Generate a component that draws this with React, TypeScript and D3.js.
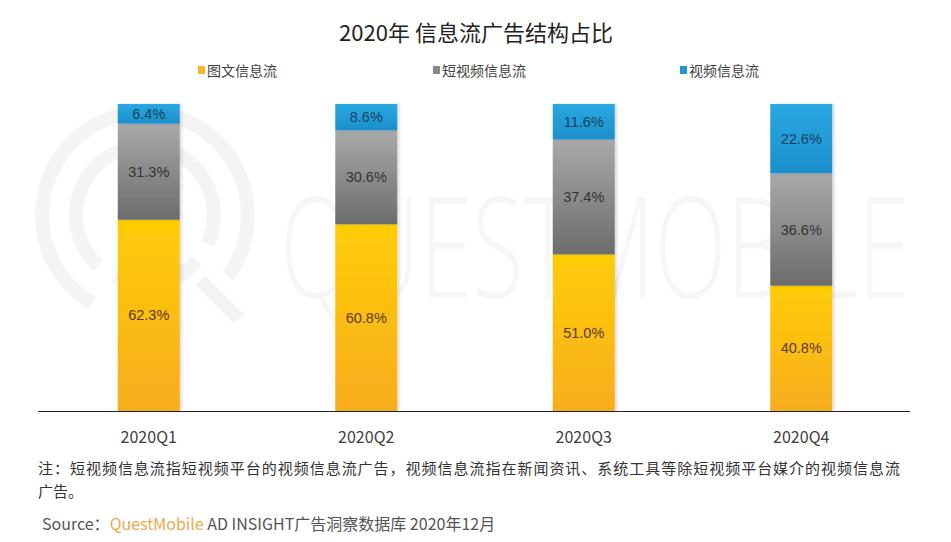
import React from 'react';
import * as d3 from 'd3';

const quarters = ['2020Q1', '2020Q2', '2020Q3', '2020Q4'];
const seriesNames = ['图文信息流', '短视频信息流', '视频信息流'];
const imageText = [62.3, 60.8, 51.0, 40.8];
const shortVideo = [31.3, 30.6, 37.4, 36.6];
const video = [6.4, 8.6, 11.6, 22.6];

const WIDTH = 951;
const HEIGHT = 542;
const CJK = '"Noto Sans CJK SC", "Microsoft YaHei", sans-serif';
const NUM = '"Liberation Sans", Arial, sans-serif';

// gradient stops per series: [top, bottom]
const grads = [
  ['#ffcd05', '#f7ad1f'],
  ['#a9a9a9', '#6c6c6c'],
  ['#2aa8e0', '#1b8fcb'],
];
const legendColors = ['#f5b82a', '#8a8a8a', '#2196cf'];
const labelColors = ['#5a3a12', '#333333', '#15435f'];

const App: React.FC = () => {
  const rows = quarters.map((q, i) => ({
    q,
    a: imageText[i],
    b: shortVideo[i],
    c: video[i],
  }));
  const layers = d3.stack<any>().keys(['a', 'b', 'c'])(rows);

  const x = d3
    .scaleBand<string>()
    .domain(quarters)
    .range([40, 910])
    .paddingInner(0.715)
    .paddingOuter(0.3575);
  const y = d3.scaleLinear().domain([0, 100]).range([411, 104]);

  const legendX = [198, 433, 680];

  // faint logo arcs for the watermark
  const arcGen = d3.arc<any>();
  const wmArcs = [
    { innerRadius: 96, outerRadius: 110, startAngle: -2.6, endAngle: 2.2 },
    { innerRadius: 62, outerRadius: 76, startAngle: -2.4, endAngle: 2.0 },
    { innerRadius: 62, outerRadius: 76, startAngle: 2.3, endAngle: 3.6 },
  ];

  return (
    <svg
      width={WIDTH}
      height={HEIGHT}
      style={{ position: 'absolute', left: 0, top: 0, background: '#fff' }}
    >
      <defs>
        {grads.map((g, i) => (
          <linearGradient key={i} id={`g${i}`} x1="0" y1="0" x2="0" y2="1">
            <stop offset="0%" stopColor={g[0]} />
            <stop offset="100%" stopColor={g[1]} />
          </linearGradient>
        ))}
        <filter id="shadow" x="-20%" y="-5%" width="140%" height="110%">
          <feDropShadow dx="2" dy="0" stdDeviation="1.5" floodColor="#000" floodOpacity="0.15" />
        </filter>
      </defs>

      {/* watermark */}
      <g transform="translate(145,215)" fill="#f4f4f4">
        {wmArcs.map((a, i) => (
          <path key={i} d={arcGen(a) as string} />
        ))}
        <path d="M60,60 L100,100 L88,108 L50,70 Z" />
      </g>
      <text
        x={595}
        y={298}
        textAnchor="middle"
        fontFamily='"Open Sans", sans-serif'
        fontWeight={300}
        fontSize={140}
        fill="#f6f6f6"
        textLength={630}
        lengthAdjust="spacingAndGlyphs"
      >
        QUESTMOBILE
      </text>

      <text x={476} y={41} textAnchor="middle" fontFamily={CJK} fontSize={22} fill="#222">
        2020年 信息流广告结构占比
      </text>

      {seriesNames.map((name, i) => (
        <g key={name}>
          <rect x={legendX[i]} y={66} width={7} height={8} fill={legendColors[i]} />
          <text x={legendX[i] + 9} y={75.5} fontFamily={CJK} fontSize={14} fill="#404040">
            {name}
          </text>
        </g>
      ))}

      {layers.map((layer, li) => (
        <g key={li}>
          {layer.map((d, i) => {
            const x0 = x(quarters[i]) as number;
            const top = y(d[1]);
            const h = y(d[0]) - top;
            return (
              <rect
                key={i}
                x={x0}
                y={top}
                width={x.bandwidth()}
                height={h}
                fill={`url(#g${li})`}
                filter="url(#shadow)"
              />
            );
          })}
        </g>
      ))}

      {layers.map((layer, li) => (
        <g key={`l${li}`}>
          {layer.map((d, i) => {
            const top = y(d[1]);
            const h = y(d[0]) - top;
            return (
              <text
                key={i}
                x={(x(quarters[i]) as number) + x.bandwidth() / 2}
                y={top + h / 2 + 5}
                textAnchor="middle"
                fontFamily={NUM}
                fontSize={14.5}
                fill={labelColors[li]}
              >
                {(d[1] - d[0]).toFixed(1)}%
              </text>
            );
          })}
        </g>
      ))}

      <line x1={38} x2={910} y1={411.5} y2={411.5} stroke="#222" strokeWidth={1} />

      {quarters.map((q) => (
        <text
          key={q}
          x={(x(q) as number) + x.bandwidth() / 2}
          y={443}
          textAnchor="middle"
          fontFamily={CJK}
          fontSize={16}
          fill="#404040"
        >
          {q}
        </text>
      ))}

      <text x={38} y={474} fontFamily={CJK} fontSize={15} fill="#333" textLength={862} lengthAdjust="spacing">
        注：短视频信息流指短视频平台的视频信息流广告，视频信息流指在新闻资讯、系统工具等除短视频平台媒介的视频信息流
      </text>
      <text x={38} y={497} fontFamily={CJK} fontSize={15} fill="#333">
        广告。
      </text>
      <text x={42} y={530} fontFamily={CJK} fontSize={16} fill="#555">
        Source：<tspan fill="#eda94a">QuestMobile</tspan> AD INSIGHT广告洞察数据库 2020年12月
      </text>
    </svg>
  );
};

export default App;
